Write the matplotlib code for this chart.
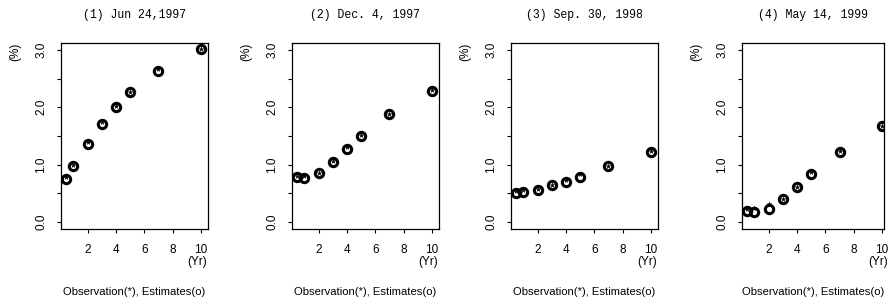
import matplotlib.pyplot as plt
import numpy as np

# maturities (years)
maturity = [0.5, 1, 2, 3, 4, 5, 7, 10]

titles = ["(1) Jun 24,1997", "(2) Dec. 4, 1997", "(3) Sep. 30, 1998", "(4) May 14, 1999"]

# estimated yields (o)
est_1 = [0.75, 0.98, 1.36, 1.71, 2.00, 2.26, 2.64, 3.01]
est_2 = [0.79, 0.77, 0.86, 1.05, 1.27, 1.50, 1.88, 2.29]
est_3 = [0.50, 0.52, 0.56, 0.64, 0.70, 0.79, 0.97, 1.23]
est_4 = [0.20, 0.17, 0.23, 0.40, 0.61, 0.83, 1.23, 1.67]

# observed yields (*)
obs_1 = [0.78, 0.99, 1.39, 1.74, 2.03, 2.27, 2.66, 3.02]
obs_2 = [0.81, 0.80, 0.86, 1.06, 1.31, 1.51, 1.89, 2.30]
obs_3 = [0.54, 0.56, 0.57, 0.65, 0.74, 0.83, 0.98, 1.24]
obs_4 = [0.22, 0.24, 0.31, 0.41, 0.62, 0.88, 1.24, 1.68]

estimates = [est_1, est_2, est_3, est_4]
observations = [obs_1, obs_2, obs_3, obs_4]

W, H = 891, 303
fig = plt.figure(figsize=(W / 100, H / 100), dpi=100)

# panel boxes in pixels: left, right, right x-limit (last panel is cut off)
boxes = [(61, 208, 10.5), (292, 439, 10.5), (511, 658, 10.5), (742, 884, 10.14)]
top, bottom = 43, 229

sans = "Liberation Sans"
mono = "Liberation Mono"


def fx(px):
    return px / W


def fy(py):
    return 1 - py / H


for k, (l, r, xr) in enumerate(boxes):
    ax = fig.add_axes([fx(l), fy(bottom), (r - l) / W, (bottom - top) / H])
    ax.plot(maturity, estimates[k], 'o', ms=6, mfc='none', mec='black', mew=2.2)
    ax.plot(maturity, observations[k], '*', ms=3.5, color='black', mew=0.3)
    ax.set_xlim(0.12, xr)
    ax.set_ylim(-0.12, 3.12)
    ax.set_xticks([2, 4, 6, 8, 10])
    ax.set_xticklabels(['2', '4', '6', '8', '10'], fontsize=8.5, family=sans)
    ax.set_yticks(np.arange(0, 3.01, 0.5))
    ax.set_yticklabels(['0.0', '', '1.0', '', '2.0', '', '3.0'], fontsize=8.5,
                       family=sans, rotation=90, va='center')
    ax.tick_params(axis='x', direction='out', length=3, width=0.8, pad=8)
    ax.tick_params(axis='y', direction='out', length=3, width=0.8, pad=7)
    for s in ax.spines.values():
        s.set_linewidth(0.9)
    cx = (l + r) / 2
    fig.text(fx(cx), fy(15), titles[k], fontsize=8.3, family=mono,
             ha='center', va='center')
    fig.text(fx(l - 46), fy(52), "(%)", rotation=90, fontsize=8.5,
             family=sans, ha='center', va='center')
    fig.text(fx(l + (10.45 - 0.12) * 14.17), fy(262), "(Yr)", fontsize=8.5,
             family=sans, ha='right', va='center')
    fig.text(fx(cx), fy(292), "Observation(*), Estimates(o)", fontsize=8.1,
             family=sans, ha='center', va='center')

fig.savefig("out.png", dpi=100)
